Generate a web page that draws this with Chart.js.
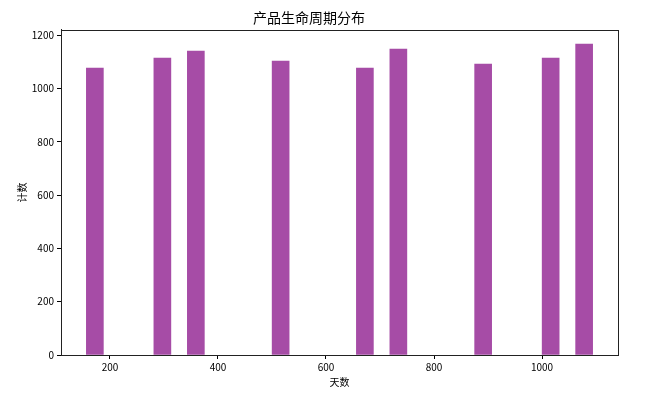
<!DOCTYPE html>
<html>
<head>
<meta charset="utf-8">
<script src="https://cdn.jsdelivr.net/npm/chart.js@4.4.0/dist/chart.umd.min.js"></script>
<style>
  html, body { margin: 0; padding: 0; background: #fff; }
  #wrap { width: 657px; height: 413px; }
</style>
</head>
<body>
<div id="wrap"><canvas id="histChart"></canvas></div>
<script>
// 数据：每个直方柱的中心（天数）和计数
const binCenters = [172, 297, 359, 516, 672, 734, 891, 1016, 1078];
const counts = [1076, 1114, 1140, 1103, 1076, 1148, 1091, 1114, 1166];
const xTicks = [200, 400, 600, 800, 1000];
const yTicks = [0, 200, 400, 600, 800, 1000, 1200];

const cjkFont = '"Noto Sans CJK SC", "DejaVu Sans", sans-serif';

// 画出四周边框（类似 matplotlib 的 spines）
const frame = {
    id: 'frame',
    afterDraw(chart) {
        const a = chart.chartArea;
        const ctx = chart.ctx;
        ctx.save();
        ctx.strokeStyle = '#222';
        ctx.lineWidth = 1;
        ctx.strokeRect(Math.round(a.left) + 0.5, Math.round(a.top) + 0.5,
            Math.round(a.right - a.left), Math.round(a.bottom - a.top));
        ctx.restore();
    }
};

function initChart() {
    const ctx = document.getElementById('histChart').getContext('2d');
    new Chart(ctx, {
        type: 'bar',
        data: {
            datasets: [{
                label: '计数',
                data: binCenters.map((x, i) => ({ x: x, y: counts[i] })),
                backgroundColor: 'rgba(128, 0, 128, 0.7)',
                borderWidth: 0,
                barThickness: 17
            }]
        },
        options: {
            responsive: true,
            maintainAspectRatio: false,
            animation: false,
            layout: { padding: { left: 0, right: 39, top: 0, bottom: 0 } },
            plugins: {
                legend: { display: false },
                tooltip: { enabled: false },
                title: {
                    display: true,
                    text: '产品生命周期分布',
                    color: '#000',
                    font: { family: cjkFont, size: 14, weight: 'normal' },
                    padding: { top: 9, bottom: 4 }
                }
            },
            scales: {
                x: {
                    type: 'linear',
                    offset: false,
                    min: 109.3,
                    max: 1140.7,
                    grid: { drawOnChartArea: false, offset: false, color: '#000', tickLength: 4 },
                    border: { color: '#222' },
                    afterBuildTicks: s => { s.ticks = xTicks.map(v => ({ value: v })); },
                    afterFit: s => { s.height = 58; },
                    ticks: {
                        color: '#000', padding: 2, maxRotation: 0,
                        font: { family: cjkFont, size: 10 },
                        callback: v => String(v)
                    },
                    title: {
                        display: true,
                        text: '天数',
                        color: '#000',
                        font: { family: cjkFont, size: 10 },
                        padding: { top: 2, bottom: 25 }
                    }
                },
                y: {
                    min: 0,
                    max: 1220,
                    grid: { drawOnChartArea: false, color: '#000', tickLength: 4 },
                    border: { color: '#222' },
                    afterBuildTicks: s => { s.ticks = yTicks.map(v => ({ value: v })); },
                    afterFit: s => { s.width = 61; },
                    ticks: {
                        color: '#000', padding: 3,
                        font: { family: cjkFont, size: 10 },
                        callback: v => String(v)
                    },
                    title: {
                        display: true,
                        text: '计数',
                        color: '#000',
                        font: { family: cjkFont, size: 10 },
                        padding: { top: 16, bottom: 4 }
                    }
                }
            }
        },
        plugins: [frame]
    });
}

document.addEventListener('DOMContentLoaded', initChart);
</script>
</body>
</html>
